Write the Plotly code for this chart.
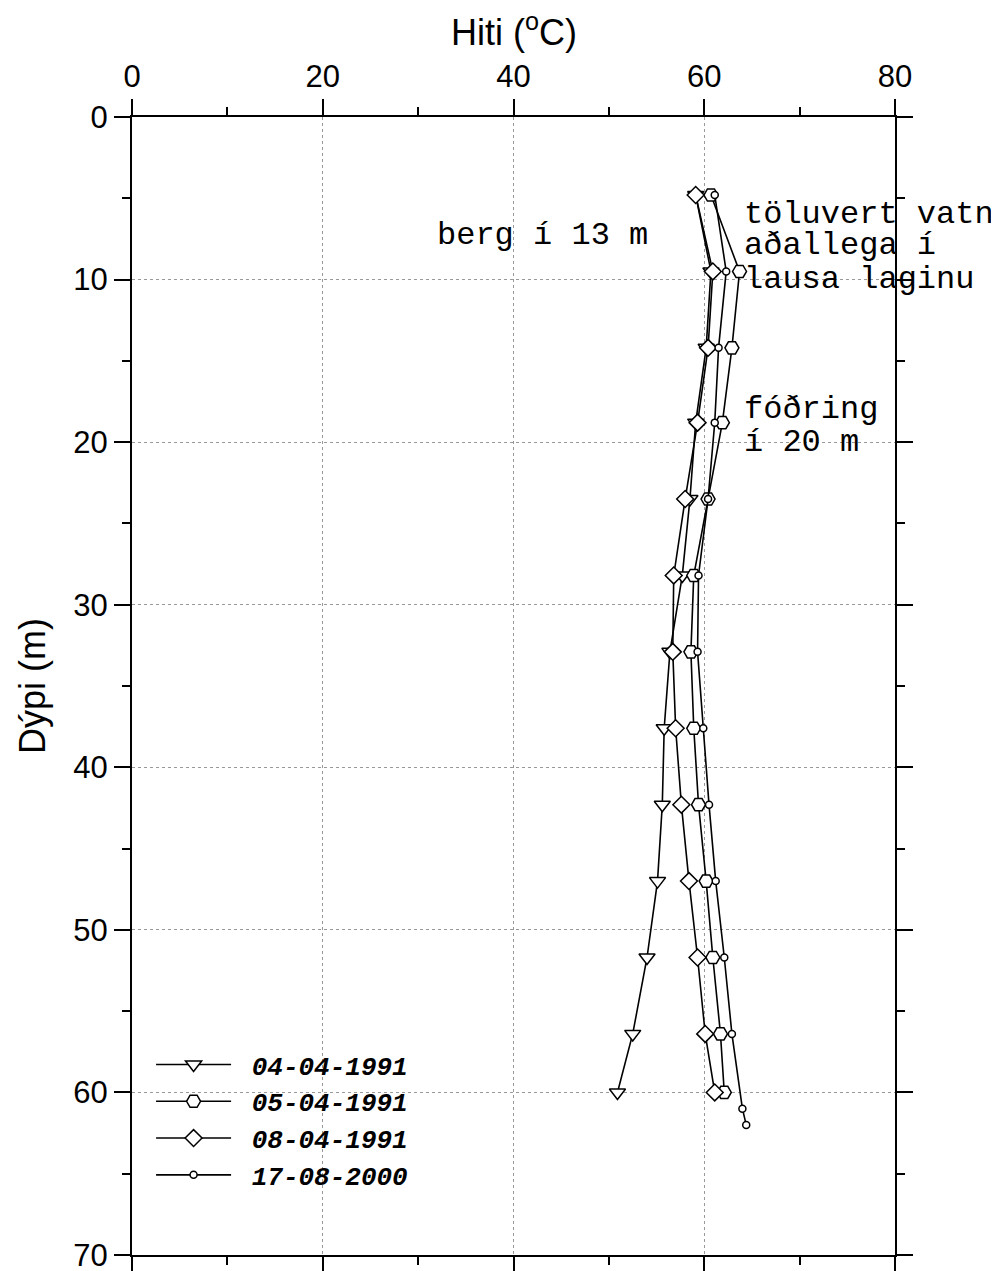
import plotly.graph_objects as go

# Dýpi (m) og hiti (°C) fyrir hverja mælingu
depth = [4.8, 9.5, 14.2, 18.8, 23.5, 28.2, 32.9, 37.6, 42.3, 47.0, 51.7, 56.4, 60.0]
depth_2000 = [4.8, 9.5, 14.2, 18.8, 23.5, 28.2, 32.9, 37.6, 42.3, 47.0, 51.7, 56.4, 61.0, 62.0]

t_040491 = [59.1, 60.7, 60.2, 59.1, 58.5, 57.7, 56.4, 55.8, 55.6, 55.1, 54.0, 52.5, 50.9]
t_050491 = [60.7, 63.7, 62.9, 61.9, 60.4, 58.9, 58.6, 58.9, 59.4, 60.2, 60.9, 61.7, 62.1]
t_080491 = [59.1, 60.9, 60.4, 59.3, 58.0, 56.8, 56.7, 57.0, 57.6, 58.4, 59.3, 60.1, 61.1]
t_170800 = [61.1, 62.3, 61.5, 61.1, 60.4, 59.4, 59.3, 59.9, 60.5, 61.2, 62.1, 62.9, 64.0, 64.4]

series = [
    ("04-04-1991", t_040491, depth, "triangle-down", 14),
    ("05-04-1991", t_050491, depth, "hexagon2", 14),
    ("08-04-1991", t_080491, depth, "diamond", 13),
    ("17-08-2000", t_170800, depth_2000, "circle", 7),
]

fig = go.Figure()
for name, temp, dep, symbol, size in series:
    fig.add_trace(go.Scatter(
        x=temp, y=dep, mode="lines+markers",
        name="&nbsp;<b><i>" + name + "</i></b>",
        line=dict(color="black", width=1.6),
        marker=dict(symbol=symbol, size=size, color="white",
                    line=dict(color="black", width=1.5)),
    ))

axis_common = dict(
    showline=True, linecolor="black", linewidth=2,
    mirror="ticks", ticks="outside", ticklen=16, tickwidth=1.5, tickcolor="black",
    showgrid=True, gridcolor="#999999", griddash="dot", gridwidth=1,
    zeroline=False, ticklabeloverflow="allow",
    tickfont=dict(family="Liberation Sans, Arial", size=31, color="black"),
)

fig.update_xaxes(
    range=[0, 80], dtick=20, side="top",
    minor=dict(dtick=10, ticks="outside", ticklen=8, tickwidth=1.5, tickcolor="black", showgrid=False),
    **axis_common,
)
fig.update_yaxes(
    range=[70, 0], dtick=10,
    minor=dict(dtick=5, ticks="outside", ticklen=8, tickwidth=1.5, tickcolor="black", showgrid=False),
    title=dict(text="Dýpi (m)", standoff=17,
               font=dict(family="Liberation Sans, Arial", size=36, color="black")),
    **axis_common,
)

# x-axis title placed above the tick labels
fig.add_annotation(x=0.5, y=1.0765, xref="paper", yref="paper", text="Hiti (<sup>o</sup>C)",
                   showarrow=False, xanchor="center", yanchor="middle",
                   font=dict(family="Liberation Sans, Arial", size=36, color="black"))

mono = dict(family="Liberation Mono, Courier New, monospace", size=32, color="black")
notes = [
    ("berg í 13 m", 31.8, 7.3),
    ("töluvert vatn", 64.0, 6.0),
    ("aðallega í", 64.0, 7.9),
    ("lausa laginu", 64.0, 10.0),
    ("fóðring", 64.0, 18.0),
    ("í 20 m", 64.0, 20.0),
]
for text, xa, ya in notes:
    fig.add_annotation(x=xa, y=ya, xref="x", yref="y", text=text, showarrow=False,
                       xanchor="left", yanchor="middle", font=mono)

# the page body adds an 8 px offset, so the figure is trimmed to match
fig.update_layout(
    width=991, height=1263,
    margin=dict(l=124, r=104, t=109, b=16, autoexpand=False),
    paper_bgcolor="white", plot_bgcolor="white",
    showlegend=True,
    legend=dict(x=0.025, y=0.188, xanchor="left", yanchor="top",
                bgcolor="rgba(0,0,0,0)", itemwidth=75, tracegroupgap=0,
                font=dict(family="Liberation Mono, Courier New, monospace", size=26, color="black")),
)

fig.write_html("out.html")
